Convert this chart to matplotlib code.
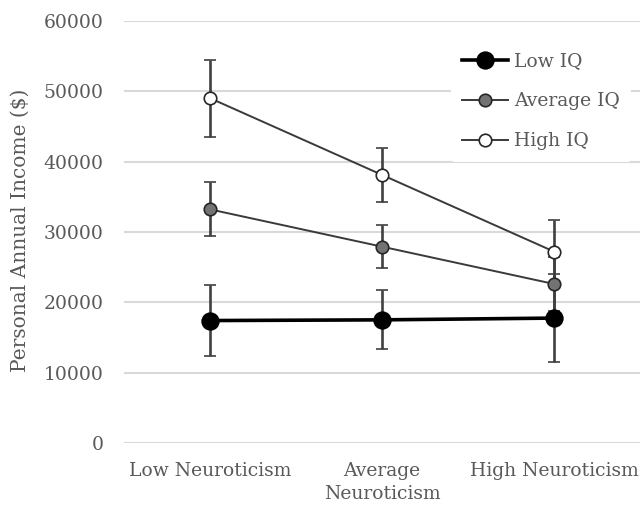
import matplotlib
matplotlib.use("Agg")
import matplotlib.pyplot as plt

categories = ["Low Neuroticism", "Average\nNeuroticism", "High Neuroticism"]
series = ["Low IQ", "Average IQ", "High IQ"]
low_iq = [17400, 17500, 17750]
low_iq_err = [5000, 4200, 6250]
avg_iq = [33200, 27900, 22600]
avg_iq_err = [3850, 3100, 3850]
high_iq = [49000, 38100, 27200]
high_iq_err = [5450, 3800, 4500]
yticks = [0, 10000, 20000, 30000, 40000, 50000, 60000]

TXT = "#595959"
plt.rcParams["font.family"] = ["DejaVu Serif"]

fig = plt.figure(figsize=(6.4, 5.08), dpi=100)
ax = fig.add_axes([0.194, 0.128, 0.806, 0.831])

x = list(range(len(categories)))
styles = [
    (low_iq, low_iq_err, "black", "black", 2.6, 12),
    (avg_iq, avg_iq_err, "#737373", "#3a3a3a", 1.4, 9),
    (high_iq, high_iq_err, "white", "#3a3a3a", 1.4, 9),
]
for name, (vals, err, fc, lc, lw, ms) in zip(series, styles):
    ax.errorbar(x, vals, yerr=err, color=lc, lw=lw, marker="o", ms=ms,
                mfc=fc, mec="#262626" if fc != "black" else "black", mew=1.2,
                ecolor="#404040", elinewidth=1.9, capsize=4.5, capthick=1.9,
                label=name, zorder=3)

ax.set_xlim(-0.5, 2.5)
ax.set_ylim(0, 60000)
ax.set_yticks(yticks)
ax.set_xticks(x)
ax.set_xticklabels(categories, linespacing=1.3)
ax.grid(axis="y", color="#d9d9d9", lw=1.5, zorder=0)
ax.set_axisbelow(True)
for s in ax.spines.values():
    s.set_visible(False)
ax.tick_params(length=0, labelsize=13.5, labelcolor=TXT)
ax.tick_params(axis="y", pad=15)
ax.tick_params(axis="x", pad=14)
fig.text(20 / 640, 0.547, "Personal Annual Income ($)", rotation=90,
         ha="center", va="center", fontsize=14.5, color=TXT)

handles, labels = ax.get_legend_handles_labels()
handles = [h[0] for h in handles]
leg = fig.legend(handles, labels, loc="upper left", bbox_to_anchor=(0.705, 0.919),
                 frameon=True, framealpha=1, edgecolor="none", fontsize=13.5,
                 labelcolor=TXT, handlelength=2.45, handletextpad=0.32,
                 labelspacing=1.17, borderpad=0.6, borderaxespad=0)
leg.get_frame().set_linewidth(0)

fig.savefig("out.png", dpi=100)
